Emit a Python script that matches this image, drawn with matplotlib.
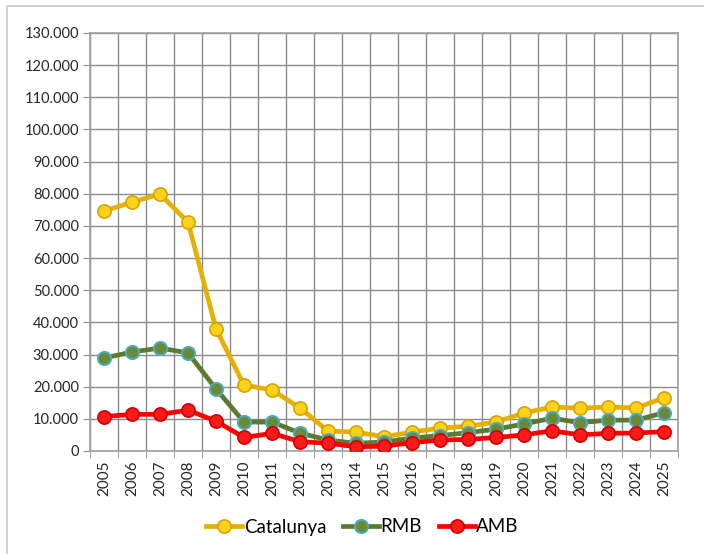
import matplotlib
matplotlib.use("Agg")
import matplotlib.pyplot as plt
import numpy as np
from matplotlib.patches import Rectangle
from matplotlib.ticker import FuncFormatter, MultipleLocator

# data
years = [str(y) for y in range(2005, 2026)]
catalunya = [74600, 77400, 79900, 71200, 38000, 20500, 19000, 13400, 6200, 5900, 4400,
             5900, 7100, 7700, 9000, 11800, 13700, 13300, 13700, 13400, 16500]
rmb = [28900, 30800, 32000, 30500, 19300, 9000, 9000, 5600, 3400, 2400, 2800,
       4000, 4800, 5700, 6800, 8400, 10200, 8800, 9600, 9600, 11900]
amb = [10700, 11400, 11400, 12700, 9300, 4200, 5500, 2900, 2400, 1300, 1500,
       2600, 3400, 3600, 4200, 5000, 6300, 5000, 5500, 5600, 6000]

plt.rcParams['font.family'] = ['Lato', 'DejaVu Sans']

W, H = 704, 554
fig = plt.figure(figsize=(W / 100, H / 100), dpi=100)

# outer chart frame
fig.patches.append(Rectangle((7 / W, -0.1), 1.2, 1 - 6 / H + 0.1, transform=fig.transFigure,
                             fill=False, edgecolor='#c8c8c8', lw=1.2))

ax = fig.add_axes([90 / W, 1 - 451 / H, (678 - 90) / W, (451 - 33) / H])

x = np.arange(len(years))
grid_col = '#8c8c8c'

ax.plot(x, catalunya, '-o', color='#e6b000', lw=3.4, ms=9.5, mfc='#ffd21a', mec='#d4a300',
        mew=1.2, label='Catalunya', zorder=3)
ax.plot(x, rmb, '-o', color='#5b7a2e', lw=3.4, ms=9.5, mfc='#6b8a35', mec='#4bacc6',
        mew=1.4, label='RMB', zorder=4)
ax.plot(x, amb, '-o', color='#ff0000', lw=3.4, ms=9.5, mfc='#ff1a1a', mec='#cc0000',
        mew=1.2, label='AMB', zorder=5)

ax.set_xlim(-0.5, len(years) - 0.5)
ax.set_ylim(0, 130000)
ax.yaxis.set_major_locator(MultipleLocator(10000))
ax.yaxis.set_major_formatter(FuncFormatter(lambda v, p: '{:,.0f}'.format(v).replace(',', '.')))

ax.set_xticks(x)
ax.set_xticklabels(years, rotation=90)
ax.set_xticks(np.arange(-0.5, len(years)), minor=True)
ax.tick_params(axis='x', which='major', length=0, pad=7, labelsize=11, colors='#262626')
ax.tick_params(axis='x', which='minor', length=5, color=grid_col)
ax.tick_params(axis='y', length=5, color=grid_col, labelsize=10.5, pad=3)
ax.tick_params(axis='y', colors=grid_col, labelcolor='#262626')

ax.grid(True, axis='y', which='major', color=grid_col, lw=1)
ax.grid(True, axis='x', which='minor', color=grid_col, lw=1)
ax.set_axisbelow(True)
for s in ax.spines.values():
    s.set_color('#a0a0a0')
    s.set_linewidth(1.2)

fig.legend(loc='center', bbox_to_anchor=(0.515, 1 - 527 / H), ncol=3, frameon=False,
           fontsize=13.5, handlelength=1.9, handletextpad=0.1, columnspacing=0.9,
           markerscale=1.0)

fig.savefig('out.png', dpi=100)
